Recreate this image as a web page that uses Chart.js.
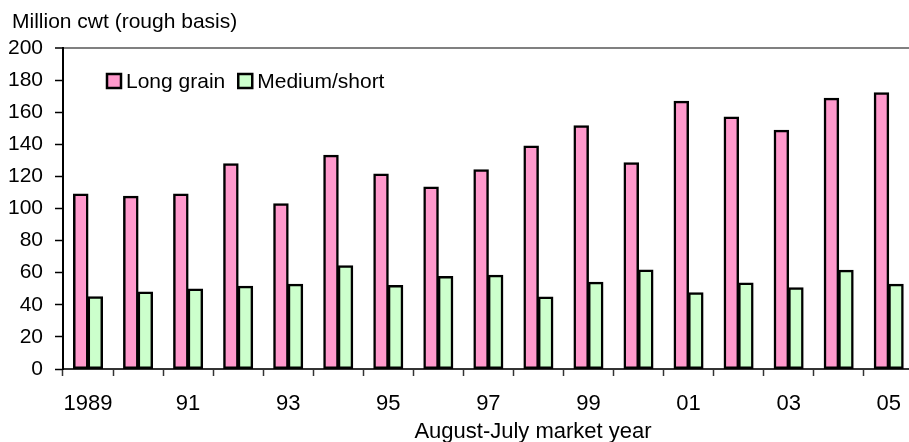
<!DOCTYPE html>
<html>
<head>
<meta charset="utf-8">
<script src="https://cdn.jsdelivr.net/npm/chart.js@4"></script>
<style>
  html, body { margin: 0; padding: 0; background: #fff; overflow: hidden; }
  #wrap { position: relative; width: 916px; height: 442px; }
</style>
</head>
<body>
<div id="wrap"><canvas id="chart"></canvas></div>
<script>
// Market years (August-July)
const years = ['1989','1990','1991','1992','1993','1994','1995','1996','1997',
               '1998','1999','2000','2001','2002','2003','2004','2005'];
// Axis labels shown under every other year
const yearLabels = ['1989','','91','','93','','95','','97','','99','','01','','03','','05'];
// Million cwt, rough basis
const longGrain = [109.0, 107.6, 109.0, 127.9, 102.9, 133.1, 121.5, 113.4, 124.2,
                   138.9, 151.6, 128.5, 166.8, 157.0, 148.7, 168.7, 172.1];
const mediumShort = [45.0, 48.0, 49.8, 51.5, 52.8, 64.4, 52.1, 57.7, 58.4,
                     44.9, 54.0, 61.7, 47.5, 53.6, 50.7, 61.5, 52.8];

const unitTitle = 'Million cwt (rough basis)';
const xTitle = 'August-July market year';

const FONT = '"Liberation Sans", Arial, Helvetica, sans-serif';
Chart.defaults.font.family = FONT;
Chart.defaults.color = '#000';

// Unit caption, x-axis caption and an in-plot legend
const decorations = {
  id: 'decorations',
  afterDraw(chart) {
    const ctx = chart.ctx;
    ctx.save();
    ctx.fillStyle = '#000';
    ctx.textBaseline = 'alphabetic';
    ctx.textAlign = 'left';
    ctx.font = '21px ' + FONT;
    ctx.fillText(unitTitle, 12, 28);

    ctx.textAlign = 'center';
    ctx.font = '22px ' + FONT;
    ctx.fillText(xTitle, 533, 438);

    // legend
    ctx.textAlign = 'left';
    ctx.font = '21px ' + FONT;
    let x = 107;
    const boxTop = 74, box = 14;
    chart.data.datasets.forEach(ds => {
      ctx.fillStyle = ds.backgroundColor;
      ctx.fillRect(x, boxTop, box, box);
      ctx.lineWidth = 2.5;
      ctx.strokeStyle = '#000';
      ctx.strokeRect(x, boxTop, box, box);
      ctx.fillStyle = '#000';
      ctx.fillText(ds.label, x + box + 5, 88);
      x += box + 5 + ctx.measureText(ds.label).width + 13;
    });
    ctx.restore();
  }
};

new Chart(document.getElementById('chart'), {
  type: 'bar',
  data: {
    labels: years,
    datasets: [
      {
        label: 'Long grain',
        data: longGrain,
        backgroundColor: '#FF99CC',
        borderColor: '#000',
        borderWidth: 2.5,
        borderSkipped: false,
        inflateAmount: 0.5,
        categoryPercentage: 0.58,
        barPercentage: 1.0
      },
      {
        label: 'Medium/short',
        data: mediumShort,
        backgroundColor: '#CCFFCC',
        borderColor: '#000',
        borderWidth: 2.5,
        borderSkipped: false,
        inflateAmount: 0.5,
        categoryPercentage: 0.58,
        barPercentage: 1.0
      }
    ]
  },
  options: {
    responsive: true,
    maintainAspectRatio: false,
    animation: false,
    devicePixelRatio: 1,
    layout: { padding: { top: 48, right: 1.5, left: 0, bottom: 0 } },
    plugins: {
      legend: { display: false },
      title: { display: false },
      tooltip: { enabled: false }
    },
    scales: {
      x: {
        offset: true,
        grid: {
          offset: true,
          drawOnChartArea: false,
          drawTicks: true,
          tickLength: 7,
          tickColor: '#333',
          tickWidth: 1.5
        },
        border: { display: true, color: '#333', width: 2 },
        ticks: {
          autoSkip: false,
          maxRotation: 0,
          minRotation: 0,
          padding: 15,
          font: { size: 22 },
          callback: (v, i) => yearLabels[i]
        },
        afterFit: s => { s.height = 73; }
      },
      y: {
        min: 0,
        max: 200,
        ticks: {
          stepSize: 20,
          padding: 12,
          font: { size: 21 }
        },
        grid: {
          drawTicks: true,
          tickLength: 8,
          tickColor: '#000',
          tickWidth: 1.5,
          color: c => (c.tick && c.tick.value === 200) ? '#808080' : 'rgba(0,0,0,0)',
          lineWidth: c => (c.tick && c.tick.value === 200) ? 2 : 1
        },
        border: { display: true, color: '#000', width: 2 },
        afterFit: s => { s.width = 63; }
      }
    }
  },
  plugins: [decorations]
});
</script>
</body>
</html>
